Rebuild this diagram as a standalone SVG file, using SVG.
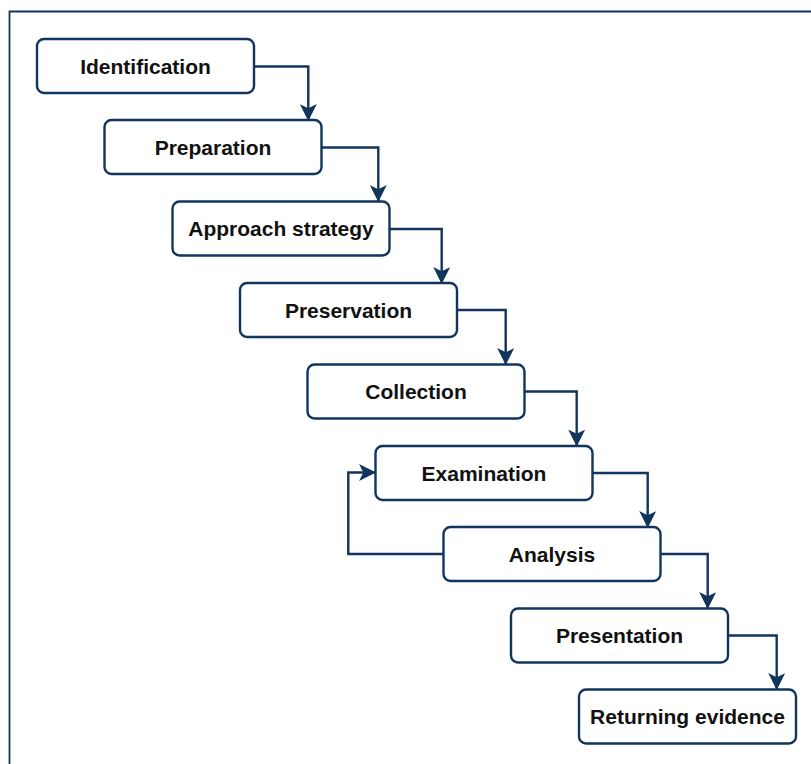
<svg xmlns="http://www.w3.org/2000/svg" width="811" height="764" viewBox="0 0 811 764">
<style>
.box{fill:#ffffff;stroke:#12355c;stroke-width:2.4}
.lbl{font-family:"Liberation Sans",Arial,sans-serif;font-weight:bold;font-size:21px;fill:#111111;text-anchor:middle}
.conn{fill:none;stroke:#12355c;stroke-width:2.4}
.frame{fill:none;stroke:#12355c;stroke-width:1.8}
</style>
<defs>
<marker id="arr" viewBox="0 0 16 16" refX="15" refY="8" markerWidth="17" markerHeight="17" markerUnits="userSpaceOnUse" orient="auto">
<path d="M0,0 L16,8 L0,16 L4,8 Z" fill="#12355c"/>
</marker>
</defs>
<rect width="811" height="764" fill="#ffffff"/>
<path class="frame" d="M9.5,764 V11.5 H811"/>
<g id="connectors">
<path class="conn" marker-end="url(#arr)" d="M254,66.5 H308.3 V120"/>
<path class="conn" marker-end="url(#arr)" d="M321.7,147.5 H378.3 V201"/>
<path class="conn" marker-end="url(#arr)" d="M389.5,229 H441.7 V283"/>
<path class="conn" marker-end="url(#arr)" d="M457,310 H505.7 V364"/>
<path class="conn" marker-end="url(#arr)" d="M524,391.5 H576.7 V445.5"/>
<path class="conn" marker-end="url(#arr)" d="M592.5,473 H647.7 V527"/>
<path class="conn" marker-end="url(#arr)" d="M660.5,554 H707.7 V608"/>
<path class="conn" marker-end="url(#arr)" d="M728.5,635.5 H776.7 V689"/>
<path class="conn" marker-end="url(#arr)" d="M443,554 H348.3 V472.5 H375"/>
</g>
<g id="identification"><rect class="box" x="37" y="39" width="217" height="54" rx="7"/><text class="lbl" x="145.5" y="73.5">Identification</text></g>
<g id="preparation"><rect class="box" x="104.5" y="120" width="217" height="54" rx="7"/><text class="lbl" x="213" y="154.5">Preparation</text></g>
<g id="approach"><rect class="box" x="172.5" y="201.5" width="217" height="54" rx="7"/><text class="lbl" x="281" y="236">Approach strategy</text></g>
<g id="preservation"><rect class="box" x="240" y="283" width="217" height="54" rx="7"/><text class="lbl" x="348.5" y="317.5">Preservation</text></g>
<g id="collection"><rect class="box" x="307.5" y="364.5" width="217" height="54" rx="7"/><text class="lbl" x="416" y="399">Collection</text></g>
<g id="examination"><rect class="box" x="375.5" y="446" width="217" height="54" rx="7"/><text class="lbl" x="484" y="480.5">Examination</text></g>
<g id="analysis"><rect class="box" x="443.5" y="527" width="217" height="54" rx="7"/><text class="lbl" x="552" y="561.5">Analysis</text></g>
<g id="presentation"><rect class="box" x="511" y="608.5" width="217" height="54" rx="7"/><text class="lbl" x="619.5" y="643">Presentation</text></g>
<g id="returning"><rect class="box" x="579" y="689.5" width="217" height="54" rx="7"/><text class="lbl" x="687.5" y="724">Returning evidence</text></g>
</svg>
